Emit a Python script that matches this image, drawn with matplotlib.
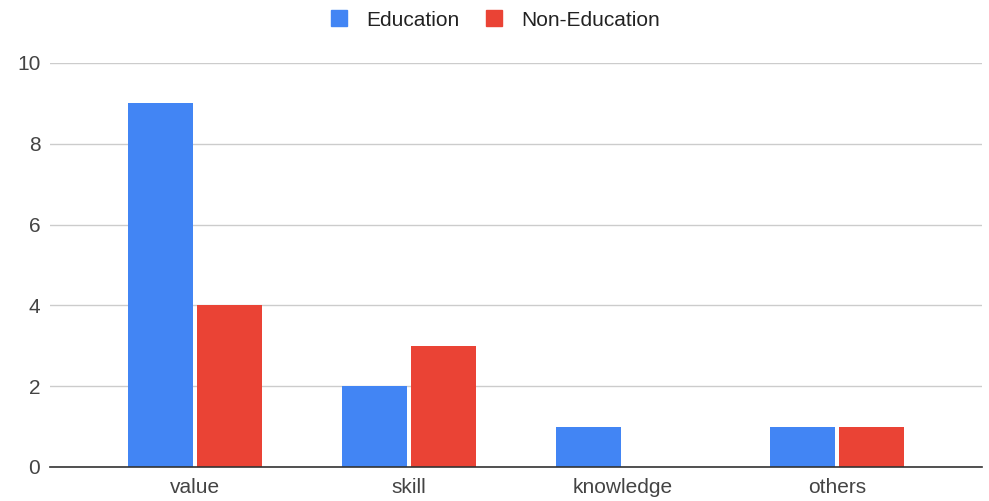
import matplotlib
matplotlib.use("Agg")
import matplotlib.pyplot as plt
import numpy as np
from matplotlib.lines import Line2D

plt.rcParams['font.family'] = ['Liberation Sans', 'DejaVu Sans']

categories = ["value", "skill", "knowledge", "others"]
education = [9, 2, 1, 1]
non_education = [4, 3, 0, 1]
series_names = ["Education", "Non-Education"]
colors = ["#4285F4", "#EA4335"]
yticks = [0, 2, 4, 6, 8, 10]

W, H = 989, 501
fig = plt.figure(figsize=(W / 100, H / 100), dpi=100)
ax = fig.add_axes([50 / W, (H - 467) / H, (982 - 50) / W, (467 - 63) / H])

x = np.arange(len(categories))
bw = 0.304
off = 0.161
ax.bar(x - off, education, bw, color=colors[0], zorder=3)
ax.bar(x + off, non_education, bw, color=colors[1], zorder=3)

ax.set_xlim(-0.678, 3.678)
ax.set_ylim(0, 10)
ax.set_yticks(yticks)
ax.set_xticks(x)
ax.set_xticklabels(categories)
ax.yaxis.grid(True, color="#cccccc", linewidth=1, zorder=0)
ax.set_axisbelow(True)
for s in ["top", "right", "left"]:
    ax.spines[s].set_visible(False)
ax.spines["bottom"].set_color("#333333")
ax.spines["bottom"].set_linewidth(1.2)
ax.spines["bottom"].set_zorder(4)
ax.tick_params(axis="both", length=0, labelsize=15, labelcolor="#444444")
ax.tick_params(axis="y", pad=7)
ax.tick_params(axis="x", pad=8)

handles = [Line2D([0], [0], marker="s", linestyle="none", markersize=12,
                  markerfacecolor=c, markeredgecolor=c) for c in colors]
fig.legend(handles, series_names, loc="center", bbox_to_anchor=(493 / W, 1 - 20 / H),
           ncol=2, frameon=False, fontsize=15, labelcolor="#222222",
           handletextpad=0.7, columnspacing=1.08, handlelength=1.2)

fig.savefig("out.png", dpi=100)
